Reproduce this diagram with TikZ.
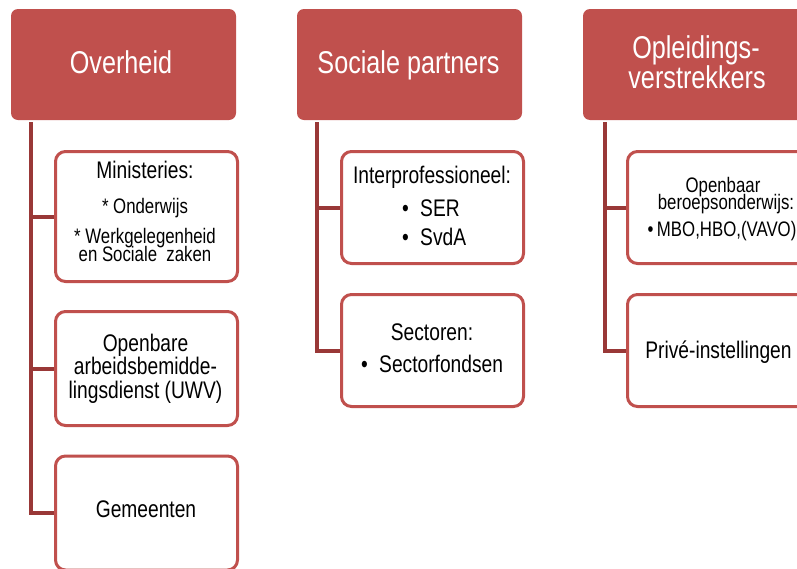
\documentclass[tikz,border=0pt]{standalone}
\usepackage{fontspec}
\setmainfont{Liberation Sans}[FakeStretch=0.8]
\definecolor{hdr}{HTML}{C0504D}
\definecolor{lnk}{HTML}{993837}
\begin{document}
\begin{tikzpicture}[x=1pt,y=-1pt,
  head/.style={fill=hdr, draw=none, rounded corners=7pt, inner sep=0pt,
    minimum width=225pt, minimum height=111pt},
  subbox/.style={draw=hdr, line width=3pt, fill=white, rounded corners=10pt,
    inner sep=0pt, minimum width=182pt},
  link/.style={draw=lnk, line width=4pt},
  htxt/.style={text=white, anchor=base, inner sep=0pt,
    font=\fontsize{31.5}{32}\selectfont},
  btxt/.style={text=black, anchor=base, inner sep=0pt,
    font=\fontsize{24}{26}\selectfont},
  stxt/.style={text=black, anchor=base, inner sep=0pt,
    font=\fontsize{21}{23}\selectfont},
  bul/.style={btxt, anchor=base west}
]
\useasboundingbox (0,0) rectangle (797,568);
\clip (0,0) rectangle (797,568);

% ---- header boxes
\node[head] (hO) at (123.5,64.5) {};
\node[head] (hS) at (409.5,64.5) {};
\node[head] (hP) at (695.5,64.5) {};

% ---- child boxes
\node[subbox, minimum height=130pt] (min) at (146.5,216.5) {};
\node[subbox, minimum height=114pt] (uwv) at (146.5,368.5) {};
\node[subbox, minimum height=114pt] (gem) at (146.5,513) {};

\node[subbox, minimum height=112pt] (ipr) at (432.5,207.5) {};
\node[subbox, minimum height=112pt] (sec) at (432.5,350.5) {};

\node[subbox, minimum height=112pt] (obo) at (718.5,207.5) {};
\node[subbox, minimum height=112pt] (pri) at (718.5,350.5) {};

% ---- connectors
\coordinate (cO) at (31,122);
\coordinate (cS) at (317,122);
\coordinate (cP) at (605,122);
\draw[link] (cO) |- (gem.west);
\draw[link] (cO) |- (uwv.west);
\draw[link] (cO) |- (min.west);
\draw[link] (cS) |- (sec.west);
\draw[link] (cS) |- (ipr.west);
\draw[link] (cP) |- (pri.west);
\draw[link] (cP) |- (obo.west);

% ---- header texts
\node[htxt] (tO) at (121,73) {Overheid};
\node[htxt] (tS) at (408.5,73) {Sociale partners};
\node[htxt] (tP1) at (696,58) {Opleidings-};
\node[htxt] (tP2) at (697,88) {verstrekkers};

% ---- Overheid children
\node[btxt] (m1) at (145,178) {Ministeries:};
\node[stxt] (m2) at (145,213) {* Onderwijs};
\node[stxt] (m3) at (145,243) {* Werkgelegenheid};
\node[stxt] (m4) at (145,261) {en Sociale\ \ zaken};

\node[btxt] (u1) at (145.5,351) {Openbare};
\node[btxt] (u2) at (145.5,374) {arbeidsbemidde-};
\node[btxt] (u3) at (145.5,398) {lingsdienst (UWV)};

\node[btxt] (g1) at (146,517) {Gemeenten};

% ---- Sociale partners children
\node[btxt] (i1) at (432,183) {Interprofessioneel:};
\node[bul] (i2) at (402,216) {\makebox[18pt][l]{•}SER};
\node[bul] (i3) at (402,245) {\makebox[18pt][l]{•}SvdA};

\node[btxt] (s1) at (432,340) {Sectoren:};
\node[bul] (s2) at (361,372) {\makebox[18pt][l]{•}Sectorfondsen};

% ---- Opleidingsverstrekkers children
\node[stxt] (o1) at (723,192) {Openbaar};
\node[stxt] (o2) at (726,209) {beroepsonderwijs:};
\node[stxt] (o3) at (722,236) {•\,MBO,HBO,(VAVO)};

\node[btxt] (p1) at (718.5,358) {Privé-instellingen};
\end{tikzpicture}
\end{document}
